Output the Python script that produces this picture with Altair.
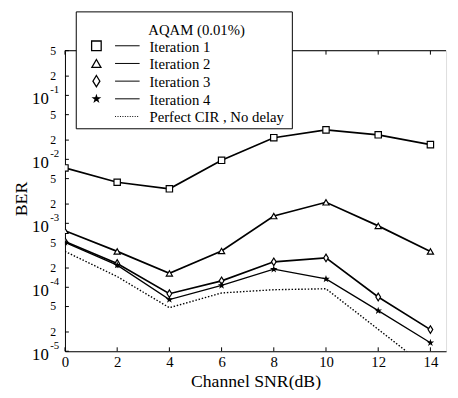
import altair as alt
import pandas as pd

# ---------------- data ----------------
snr = [0, 2, 4, 6, 8, 10, 12, 14]
iter1 = [7.35e-3, 4.39e-3, 3.46e-3, 9.66e-3, 2.18e-2, 2.89e-2, 2.42e-2, 1.70e-2]
iter2 = [7.64e-4, 3.64e-4, 1.65e-4, 3.69e-4, 1.30e-3, 2.13e-3, 9.12e-4, 3.64e-4]
iter3 = [5.18e-4, 2.36e-4, 7.94e-5, 1.26e-4, 2.50e-4, 2.88e-4, 7.06e-5, 2.18e-5]
iter4 = [5.03e-4, 2.22e-4, 6.43e-5, 1.07e-4, 1.92e-4, 1.35e-4, 4.31e-5, 1.36e-5]
perfect = [3.64e-4, 1.47e-4, 4.79e-5, 8.15e-5, 9.16e-5, 9.48e-5, 2.20e-5, 5.10e-6]

series_names = ["Iteration 1", "Iteration 2", "Iteration 3", "Iteration 4",
                "Perfect CIR , No delay"]
series_values = [iter1, iter2, iter3, iter4, perfect]
legend_title = "AQAM (0.01%)"

x_ticks = [0, 2, 4, 6, 8, 10, 12, 14]
y_minor_vals = [2e-5, 5e-5, 2e-4, 5e-4, 2e-3, 5e-3, 2e-2, 5e-2, 2e-1, 5e-1]
y_minor_labels = ["2", "5", "2", "5", "2", "5", "2", "5", "2", "5"]
y_decade_vals = [1e-5, 1e-4, 1e-3, 1e-2, 1e-1]
y_decade_exps = ["-5", "-4", "-3", "-2", "-1"]

# ---------------- styling ----------------
FONT = "Liberation Serif"
W, H = 388, 306
STAR = ("M0,-1L0.2245,-0.309L0.951,-0.309L0.363,0.118L0.588,0.809L0,0.382"
        "L-0.588,0.809L-0.363,0.118L-0.951,-0.309L-0.2245,-0.309Z")
DIAMOND = "M0,-1L0.62,0L0,1L-0.62,0Z"
styles = [
    dict(shape="square", size=42, lsize=95, sw=1.7, dash=None, fill="white"),
    dict(shape="triangle-up", size=40, lsize=85, sw=1.7, dash=None, fill="white"),
    dict(shape=DIAMOND, size=60, lsize=130, sw=1.7, dash=None, fill="white"),
    dict(shape=STAR, size=18, lsize=40, sw=1.3, dash=None, fill="black"),
    dict(shape=None, size=0, lsize=0, sw=1.4, dash=[1.5, 1.8], fill=None),
]

xscale = alt.Scale(domain=[0, 14.6], nice=False, zero=False)
yscale = alt.Scale(type="log", domain=[1e-5, 0.5], nice=False)

XAX = alt.Axis(
    values=x_ticks, labelFont=FONT, labelFontSize=15, labelColor="black",
    labelFlush=False, labelPadding=4, ticks=False, grid=False,
    domainColor="black", title="Channel SNR(dB)", titleFont=FONT,
    titleFontSize=18, titleFontWeight="normal", titleColor="black",
    titlePadding=3)
YAX = alt.Axis(labels=False, ticks=False, grid=False, domainColor="black", title=None)


def X(f):
    return alt.X(f, scale=xscale, axis=XAX)


def Y(f):
    return alt.Y(f, scale=yscale, axis=YAX)


one = pd.DataFrame({"d": [0]})
layers = []

# data series
for i, (name, vals) in enumerate(zip(series_names, series_values)):
    st = styles[i]
    df = pd.DataFrame({"snr": snr, "ber": vals})
    lkw = dict(color="black", strokeWidth=st["sw"], clip=True)
    if st["dash"]:
        lkw["strokeDash"] = st["dash"]
    layers.append(alt.Chart(df).mark_line(**lkw).encode(x=X("snr:Q"), y=Y("ber:Q")))
    if st["shape"]:
        layers.append(alt.Chart(df).mark_point(
            shape=st["shape"], size=st["size"], filled=True, fill=st["fill"],
            stroke="black", strokeWidth=1.2, opacity=1, clip=True).encode(
            x=X("snr:Q"), y=Y("ber:Q")))

# top frame line
layers.append(alt.Chart(one).mark_rule(color="black", strokeWidth=1).encode(
    x=alt.value(0), x2=alt.value(W), y=alt.value(0)))

# inward ticks
xt = pd.DataFrame({"snr": x_ticks})
layers.append(alt.Chart(xt).mark_rule(color="black").encode(
    x=X("snr:Q"), y=alt.value(H), y2=alt.value(H - 4)))
layers.append(alt.Chart(xt).mark_rule(color="black").encode(
    x=X("snr:Q"), y=alt.value(0), y2=alt.value(4)))
yt = pd.DataFrame({"ber": y_minor_vals + y_decade_vals})
layers.append(alt.Chart(yt).mark_rule(color="black").encode(
    y=Y("ber:Q"), x=alt.value(0), x2=alt.value(4)))

# y tick labels
mdf = pd.DataFrame({"ber": y_minor_vals, "lab": y_minor_labels})
layers.append(alt.Chart(mdf).mark_text(
    align="right", baseline="middle", font=FONT, fontSize=12, color="black", dy=0).encode(
    x=alt.value(-9), y=Y("ber:Q"), text="lab:N"))
ddf = pd.DataFrame({"ber": y_decade_vals, "e": y_decade_exps})
layers.append(alt.Chart(ddf).mark_text(
    align="right", baseline="middle", font=FONT, fontSize=17, color="black", dy=4).encode(
    x=alt.value(-16.5), y=Y("ber:Q"), text=alt.value("10")))
layers.append(alt.Chart(ddf).mark_text(
    align="left", baseline="middle", font=FONT, fontSize=11, color="black", dy=-5).encode(
    x=alt.value(-15), y=Y("ber:Q"), text="e:N"))

# y title
layers.append(alt.Chart(one).mark_text(
    font=FONT, fontSize=18, color="black", angle=270, align="center",
    baseline="middle").encode(x=alt.value(-44), y=alt.value(151), text=alt.value("BER")))

# legend box
layers.append(alt.Chart(one).mark_rect(fill="white", stroke="black", strokeWidth=1).encode(
    x=alt.value(11.5), x2=alt.value(231.5), y=alt.value(-39.5), y2=alt.value(79.5)))
layers.append(alt.Chart(one).mark_text(
    font=FONT, fontSize=15, color="black", align="center", baseline="middle").encode(
    x=alt.value(134), y=alt.value(-21), text=alt.value(legend_title)))
row_y = [-5, 13, 31, 49, 67]
for i, name in enumerate(series_names):
    st = styles[i]
    ry = row_y[i]
    if st["shape"]:
        layers.append(alt.Chart(one).mark_point(
            shape=st["shape"], size=st["lsize"], filled=True, fill=st["fill"],
            stroke="black", strokeWidth=1.3, opacity=1).encode(
            x=alt.value(32), y=alt.value(ry)))
    rkw = dict(color="black", strokeWidth=1.0)
    if st["dash"]:
        rkw["strokeDash"] = [1, 1.5]
    layers.append(alt.Chart(one).mark_rule(**rkw).encode(
        x=alt.value(51), x2=alt.value(76), y=alt.value(ry)))
    layers.append(alt.Chart(one).mark_text(
        font=FONT, fontSize=15, color="black", align="left", baseline="middle").encode(
        x=alt.value(86), y=alt.value(ry + 1), text=alt.value(name)))

chart = alt.layer(*layers).properties(
    width=W, height=H,
    autosize=alt.AutoSizeParams(type="none"),
    padding={"left": 58, "top": 40, "right": 4, "bottom": 36},
).configure_view(stroke=None).configure(background="white")

chart.save("out.html", embed_options={"renderer": "svg", "actions": False})
